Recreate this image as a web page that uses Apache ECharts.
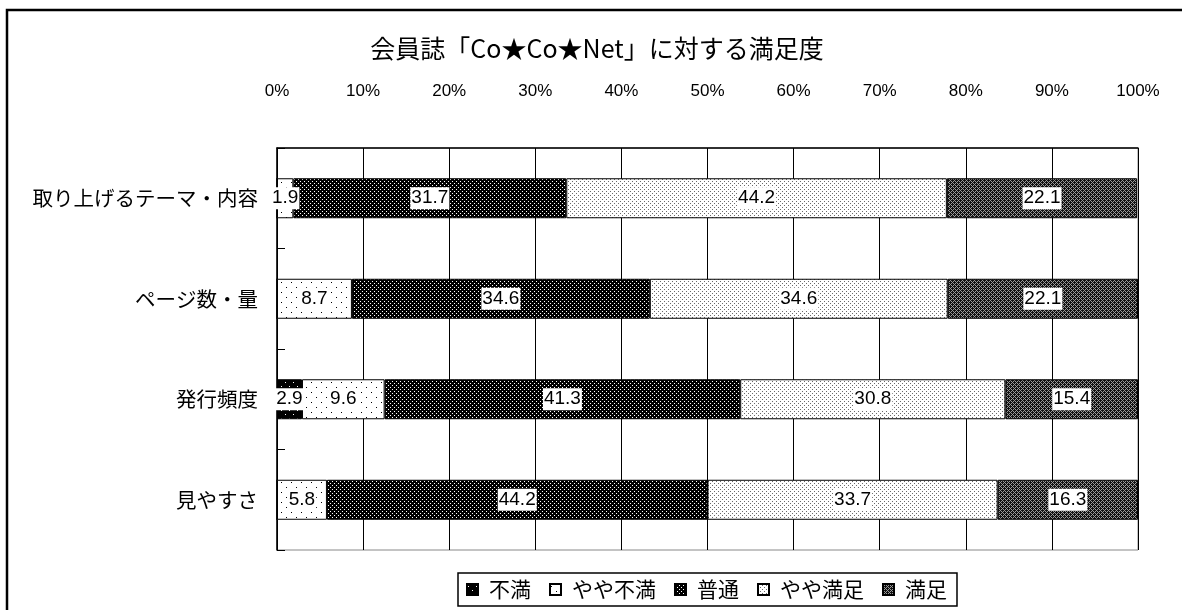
<!DOCTYPE html>
<html>
<head>
<meta charset="utf-8">
<script src="https://cdn.jsdelivr.net/npm/echarts@6/dist/echarts.min.js"></script>
<style>
  html, body { margin: 0; padding: 0; background: #fff; }
  #chart { width: 1182px; height: 610px; }
</style>
</head>
<body>
<div id="chart"></div>
<script>
// Survey items (top to bottom)
const categories = ['取り上げるテーマ・内容', 'ページ数・量', '発行頻度', '見やすさ'];
// Response shares (%) per rating
const fuman = [0, 0, 2.9, 0];           // 不満
const yayaFuman = [1.9, 8.7, 9.6, 5.8]; // やや不満
const futsu = [31.7, 34.6, 41.3, 44.2]; // 普通
const yayaManzoku = [44.2, 34.6, 30.8, 33.7]; // やや満足
const manzoku = [22.1, 22.1, 15.4, 16.3];     // 満足
const seriesNames = ['不満', 'やや不満', '普通', 'やや満足', '満足'];
const tickLabels = ['0%', '10%', '20%', '30%', '40%', '50%', '60%', '70%', '80%', '90%', '100%'];

// Small repeating tiles used as monochrome fill patterns
function tile(size, bg, fg, pts) {
  const c = document.createElement('canvas');
  c.width = size; c.height = size;
  const g = c.getContext('2d');
  g.fillStyle = bg; g.fillRect(0, 0, size, size);
  g.fillStyle = fg;
  pts.forEach(p => g.fillRect(p[0], p[1], 1, 1));
  return { image: c, repeat: 'repeat' };
}
function checkTile() {
  const c = document.createElement('canvas');
  c.width = 4; c.height = 4;
  const g = c.getContext('2d');
  g.fillStyle = '#111'; g.fillRect(0, 0, 4, 4);
  g.fillStyle = '#9a9a9a';
  for (let y = 0; y < 4; y++) for (let x = 0; x < 4; x++) {
    if ((x + y) % 2 === 0 && !((x === 0 && y === 0) || (x === 2 && y === 2))) g.fillRect(x, y, 1, 1);
  }
  return { image: c, repeat: 'repeat' };
}

const fills = [
  tile(8, '#000', '#fff', [[1, 2], [5, 6]]),
  tile(10, '#fff', '#000', [[1, 2], [6, 7]]),
  tile(4, '#000', '#fff', [[0, 1], [2, 3]]),
  tile(4, '#fff', '#6a6a6a', [[0, 1], [2, 3]]),
  checkTile()
];

const numFont = "'Liberation Sans', 'Noto Sans CJK JP', sans-serif";
const jpFont = "'Noto Sans CJK JP', 'Liberation Sans', sans-serif";

const valueSets = [fuman, yayaFuman, futsu, yayaManzoku, manzoku];

const series = valueSets.map((vals, i) => ({
  name: seriesNames[i],
  type: 'bar',
  stack: 'total',
  barWidth: 40,
  itemStyle: { color: fills[i], borderColor: '#000', borderWidth: 1 },
  label: {
    show: true,
    position: 'inside',
    color: '#000',
    fontFamily: numFont,
    fontSize: 19,
    backgroundColor: '#fff',
    padding: [2, 1, 1, 1],
    formatter: p => p.value.toFixed(1)
  },
  emphasis: { disabled: true },
  data: vals.map(v => v === 0 ? { value: 0, label: { show: false } } : v)
}));

const chart = echarts.init(document.getElementById('chart'));
chart.setOption({
  animation: false,
  backgroundColor: '#fff',
  title: {
    text: '会員誌「Co★Co★Net」に対する満足度',
    left: 592,
    textAlign: 'center',
    top: 31,
    textStyle: { fontFamily: jpFont, fontSize: 25, fontWeight: 'normal', color: '#000' }
  },
  legend: {
    left: 458,
    top: 573,
    padding: [6, 10, 6, 8],
    borderColor: '#000',
    borderWidth: 1.5,
    itemWidth: 11,
    itemHeight: 11,
    itemGap: 18,
    icon: 'rect',
    textStyle: { fontFamily: jpFont, fontSize: 21, color: '#000', padding: [0, 0, 0, 6] },
    data: seriesNames
  },
  grid: {
    left: 277, right: 44, top: 148, bottom: 60,
    show: true, borderColor: '#888', borderWidth: 1, backgroundColor: 'transparent'
  },
  xAxis: {
    type: 'value',
    position: 'top',
    min: 0, max: 100, interval: 10,
    axisLine: { show: true, lineStyle: { color: '#000', width: 1.5 } },
    axisTick: { show: false },
    splitLine: { show: true, lineStyle: { color: '#000', width: 1 } },
    axisLabel: {
      margin: 48,
      fontFamily: numFont, fontSize: 17, color: '#000',
      formatter: v => tickLabels[Math.round(v / 10)]
    }
  },
  yAxis: {
    type: 'category',
    inverse: true,
    data: categories,
    axisLine: { show: true, lineStyle: { color: '#000', width: 1.5 } },
    axisTick: { show: true, inside: true, length: 8, lineStyle: { color: '#000' } },
    axisLabel: { margin: 19, fontFamily: jpFont, fontSize: 20.5, color: '#000' }
  },
  graphic: [{
    type: 'rect',
    shape: { x: 7, y: 10, width: 1200, height: 700 },
    style: { fill: 'none', stroke: '#000', lineWidth: 2.5 },
    silent: true
  }],
  series: series
});
</script>
</body>
</html>
